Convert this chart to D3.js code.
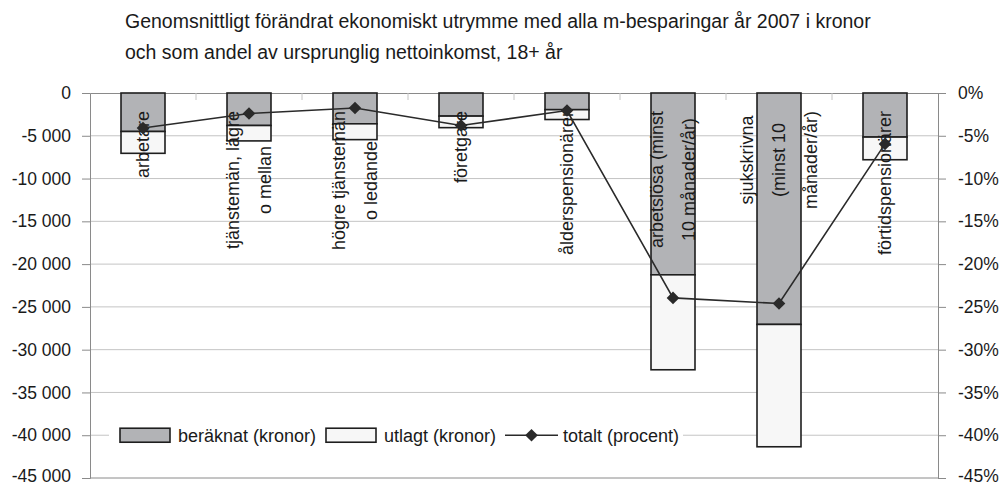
<!DOCTYPE html>
<html>
<head>
<meta charset="utf-8">
<script src="https://cdn.jsdelivr.net/npm/d3@7"></script>
<style>
  html, body { margin: 0; padding: 0; background: #fff; }
  text { font-family: "Liberation Sans", Arial, sans-serif; fill: #1a1a1a; }
</style>
</head>
<body>
<svg id="chart" width="1000" height="486"></svg>
<script>
// ---- data ----
const categories = ["arbetare", "tjänstemän, lägre|o mellan", "högre tjänstemän|o ledande", "företgare",
  "ålderspensionärer", "arbetslösa (minst|10 månader/år)", "sjukskrivna|(minst 10|månader/år)", "förtidspensionärer"];
const beraknat = [-4500, -3800, -3600, -2700, -1950, -21250, -27050, -5150];
const utlagt   = [-2550, -1800, -1850, -1350, -1150, -11100, -14300, -2650];
const totaltProcent = [-4.1, -2.4, -1.75, -3.8, -2.05, -23.95, -24.6, -5.95];
const leftTicks = [0, -5000, -10000, -15000, -20000, -25000, -30000, -35000, -40000, -45000];
const leftTickLabels = ["0", "-5 000", "-10 000", "-15 000", "-20 000", "-25 000", "-30 000", "-35 000", "-40 000", "-45 000"];
const rightTicks = [0, -5, -10, -15, -20, -25, -30, -35, -40, -45];
const rightTickLabels = ["0%", "-5%", "-10%", "-15%", "-20%", "-25%", "-30%", "-35%", "-40%", "-45%"];
const titleLines = ["Genomsnittligt förändrat ekonomiskt utrymme med alla m-besparingar år 2007 i kronor",
  "och som andel av ursprunglig nettoinkomst, 18+ år"];
const legendLabels = ["beräknat (kronor)", "utlagt (kronor)", "totalt (procent)"];

// ---- layout ----
const L = 90, R = 938, T = 93, B = 478;
const svg = d3.select("#chart");
const colDark = "#1e1e1e", colBar1 = "#b2b3b6", colBar2 = "#f7f7f7";
const gridCol = "#c4c4c4", axisCol = "#8a8a8a";

const x = d3.scaleBand().domain(categories).range([L, R]).paddingInner(0.585).paddingOuter(0.2925);
const y = d3.scaleLinear().domain([-45000, 0]).range([B, T]);
const y2 = d3.scaleLinear().domain([-45, 0]).range([B, T]);

// title
svg.append("g").selectAll("text").data(titleLines).join("text")
  .attr("x", 125).attr("y", (d, i) => 28 + i * 31)
  .attr("font-size", 19.5).text(d => d);

// gridlines
svg.append("g").selectAll("line").data(leftTicks.filter(t => t !== 0 && t !== -45000)).join("line")
  .attr("x1", L).attr("x2", R).attr("y1", d => y(d)).attr("y2", d => y(d))
  .attr("stroke", gridCol).attr("stroke-width", 1);

// left axis
const leftAxis = d3.axisLeft(y).tickValues(leftTicks).tickSize(8).tickPadding(11)
  .tickFormat((d, i) => leftTickLabels[i]);
const gl = svg.append("g").attr("transform", `translate(${L},0)`).call(leftAxis);
gl.select(".domain").attr("stroke", axisCol);
gl.selectAll(".tick line").attr("stroke", axisCol);
gl.selectAll(".tick text").attr("font-size", 17.5).attr("font-family", "Liberation Sans, Arial").attr("fill", "#1a1a1a")
  .attr("y", d => d === -45000 ? -2 : 0);

// right axis
const rightAxis = d3.axisRight(y2).tickValues(rightTicks).tickSize(8).tickPadding(12)
  .tickFormat((d, i) => rightTickLabels[i]);
const gr = svg.append("g").attr("transform", `translate(${R},0)`).call(rightAxis);
gr.select(".domain").attr("stroke", axisCol);
gr.selectAll(".tick line").attr("stroke", axisCol);
gr.selectAll(".tick text").attr("font-size", 17.5).attr("font-family", "Liberation Sans, Arial").attr("fill", "#1a1a1a")
  .attr("y", d => d === -45 ? -2 : 0);

// bottom border
svg.append("line").attr("x1", L).attr("x2", R).attr("y1", B).attr("y2", B).attr("stroke", axisCol);

// category axis at 0 (top)
const topAxis = d3.axisBottom(x).tickSize(0).tickFormat("");
const gt = svg.append("g").attr("transform", `translate(0,${T})`).call(topAxis);
gt.select(".domain").attr("stroke", axisCol);
const step = x.step();
svg.append("g").selectAll("line").data(d3.range(1, categories.length)).join("line")
  .attr("x1", i => L + i * step).attr("x2", i => L + i * step)
  .attr("y1", T).attr("y2", T + 7).attr("stroke", gridCol);

// bars
const bars = svg.append("g");
bars.selectAll("rect.b1").data(categories).join("rect").attr("class", "b1")
  .attr("x", d => x(d)).attr("width", x.bandwidth())
  .attr("y", y(0)).attr("height", (d, i) => y(beraknat[i]) - y(0))
  .attr("fill", colBar1).attr("stroke", colDark).attr("stroke-width", 1.6);
bars.selectAll("rect.b2").data(categories).join("rect").attr("class", "b2")
  .attr("x", d => x(d)).attr("width", x.bandwidth())
  .attr("y", (d, i) => y(beraknat[i])).attr("height", (d, i) => y(beraknat[i] + utlagt[i]) - y(beraknat[i]))
  .attr("fill", colBar2).attr("stroke", colDark).attr("stroke-width", 1.6);

// category labels (rotated)
const labTop = 111, lineGap = 32;
const lg = svg.append("g");
categories.forEach(c => {
  const lines = c.split("|");
  const cx = x(c) + x.bandwidth() / 2;
  const g = lg.append("g").attr("transform", `translate(${cx},${labTop}) rotate(-90)`);
  const texts = g.selectAll("text").data(lines).join("text")
    .attr("font-size", 18).attr("dy", "0.35em")
    .attr("y", (d, i) => (i - (lines.length - 1) / 2) * lineGap)
    .text(d => d);
  let maxLen = 0;
  texts.each(function () { maxLen = Math.max(maxLen, this.getComputedTextLength()); });
  texts.attr("text-anchor", "middle").attr("x", -maxLen / 2);
});

// line
const lineGen = d3.line().x((d, i) => x(categories[i]) + x.bandwidth() / 2).y(d => y2(d));
svg.append("path").datum(totaltProcent).attr("d", lineGen)
  .attr("fill", "none").attr("stroke", "#2a2a2a").attr("stroke-width", 1.6);
const diamond = d3.symbol().type(d3.symbolSquare).size(80);
svg.append("g").selectAll("path").data(totaltProcent).join("path")
  .attr("d", diamond)
  .attr("transform", (d, i) => `translate(${x(categories[i]) + x.bandwidth() / 2},${y2(d)}) rotate(45)`)
  .attr("fill", "#2a2a2a");

// legend
const legY = y(-40000);
const leg = svg.append("g");
leg.append("rect").attr("x", 109).attr("y", legY - 12).attr("width", 574).attr("height", 24).attr("fill", "#fff");
leg.append("rect").attr("x", 120).attr("y", legY - 7).attr("width", 50).attr("height", 14)
  .attr("fill", colBar1).attr("stroke", colDark).attr("stroke-width", 1.6);
leg.append("text").attr("x", 178).attr("y", legY).attr("dy", "0.35em").attr("font-size", 18).text(legendLabels[0]);
leg.append("rect").attr("x", 326).attr("y", legY - 7).attr("width", 50).attr("height", 14)
  .attr("fill", colBar2).attr("stroke", colDark).attr("stroke-width", 1.6);
leg.append("text").attr("x", 384).attr("y", legY).attr("dy", "0.35em").attr("font-size", 18).text(legendLabels[1]);
leg.append("line").attr("x1", 505).attr("x2", 558).attr("y1", legY).attr("y2", legY)
  .attr("stroke", "#2a2a2a").attr("stroke-width", 1.6);
leg.append("path").attr("d", diamond).attr("transform", `translate(531.5,${legY}) rotate(45)`).attr("fill", "#2a2a2a");
leg.append("text").attr("x", 563).attr("y", legY).attr("dy", "0.35em").attr("font-size", 18).text(legendLabels[2]);
</script>
</body>
</html>
